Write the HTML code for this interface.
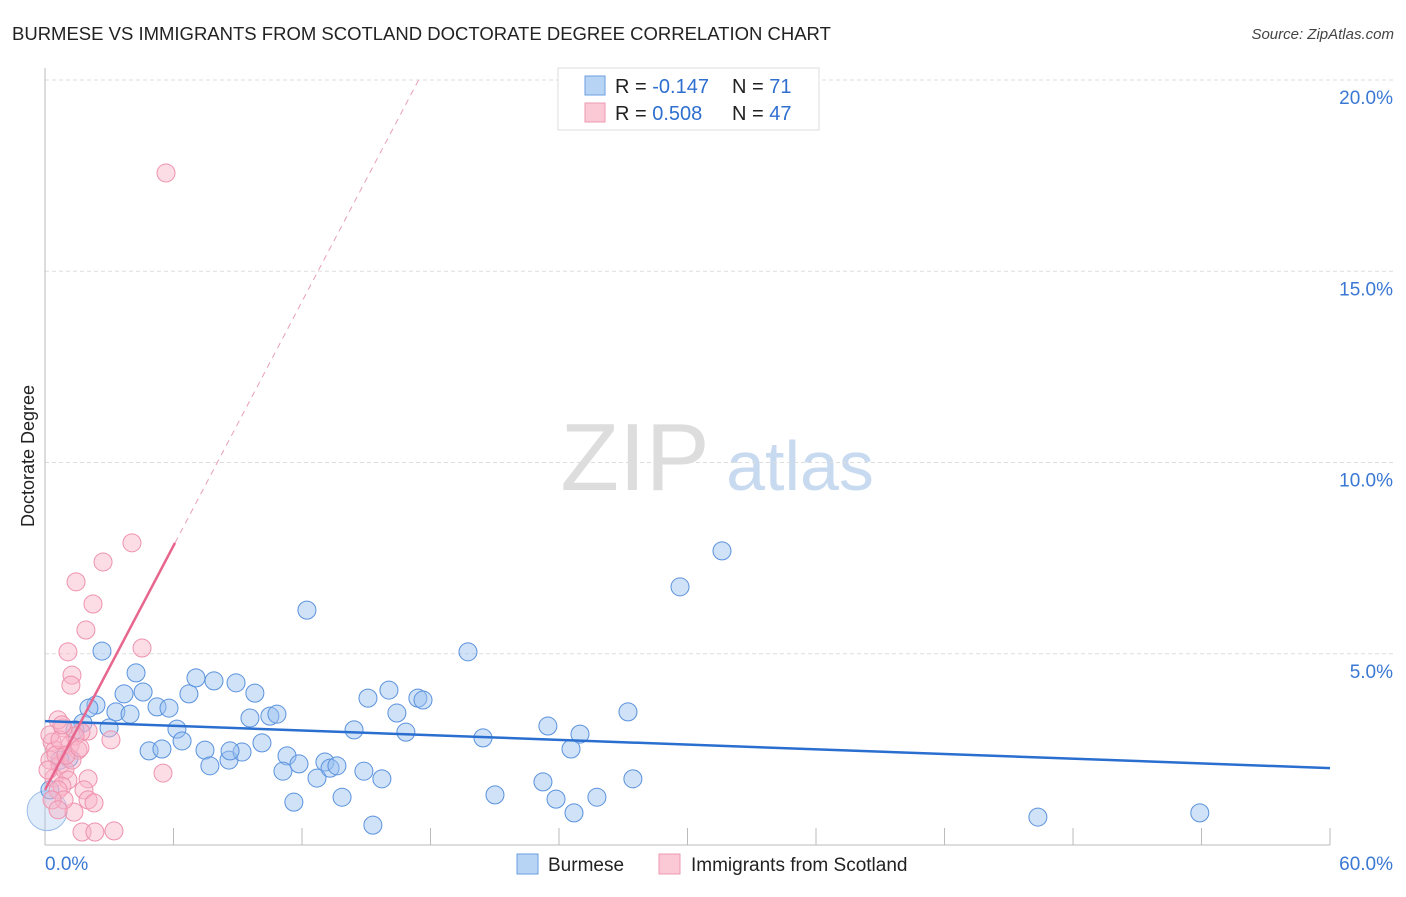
<!DOCTYPE html>
<html><head><meta charset="utf-8"><style>
body{margin:0;background:#fff;font-family:"Liberation Sans",sans-serif;}
svg text{font-family:"Liberation Sans",sans-serif;}
</style></head><body>
<svg id="chart" width="1406" height="892" xmlns="http://www.w3.org/2000/svg">
<text x="12" y="40" font-size="18.5" fill="#222">BURMESE VS IMMIGRANTS FROM SCOTLAND DOCTORATE DEGREE CORRELATION CHART</text>
<text x="1394" y="39" font-size="15" fill="#444" font-style="italic" text-anchor="end">Source: ZipAtlas.com</text>
<g>
<text x="635" y="490" font-size="96" fill="#ddd" font-family="Liberation Serif" text-anchor="middle">ZIP</text>
<text x="800" y="490" font-size="70" fill="#c8daf0" text-anchor="middle">atlas</text>
</g>
<g id="grid"></g>
<g id="axes"></g>
<g id="marks"></g>
<text transform="translate(34,456) rotate(-90)" font-size="18" fill="#222" text-anchor="middle">Doctorate Degree</text>
<g>
<rect x="558" y="68" width="261" height="62" fill="#fff" stroke="#ddd"/>
<rect x="585" y="76" width="20" height="19" fill="#b8d4f5" stroke="#6a9ee0"/>
<rect x="585" y="103" width="20" height="19" fill="#fbc8d6" stroke="#ee9ab2"/>
<text x="615" y="93" font-size="20" fill="#222">R = <tspan fill="#2f6fd0">-0.147</tspan></text>
<text x="732" y="93" font-size="20" fill="#222">N = <tspan fill="#2f6fd0">71</tspan></text>
<text x="615" y="120" font-size="20" fill="#222">R = <tspan fill="#2f6fd0"> 0.508</tspan></text>
<text x="732" y="120" font-size="20" fill="#222">N = <tspan fill="#2f6fd0">47</tspan></text>
</g>
<g>
<rect x="517" y="854" width="21" height="20" fill="#b8d4f5" stroke="#6a9ee0"/>
<text x="548" y="871" font-size="19" fill="#222">Burmese</text>
<rect x="659" y="854" width="21" height="20" fill="#fbc8d6" stroke="#ee9ab2"/>
<text x="691" y="871" font-size="19" fill="#222">Immigrants from Scotland</text>
</g>
</svg>
<script>
const yTicks=[5,10,15,20];
const yTickLabels=["5.0%","10.0%","15.0%","20.0%"];
const xTicks=[0,6,12,18,24,30,36,42,48,54,60];
const blueX=[2.66,4.25,2.38,2.05,3.69,4.58,3.31,3.97,2.99,1.77,1.12,5.23,5.79,6.72,7.05,7.89,8.92,9.80,9.57,10.50,10.83,6.16,6.40,4.86,5.46,7.47,7.70,8.59,9.20,10.13,8.64,11.30,11.11,11.86,11.62,12.70,13.07,13.31,13.63,13.87,14.89,15.31,15.73,12.23,15.08,16.06,16.43,16.85,14.43,17.41,17.65,19.75,20.45,21.01,23.25,23.48,23.86,24.56,24.70,24.98,25.77,27.22,27.45,29.65,31.61,46.36,53.92,0.1,0.70,0.23,1.40];
const blueY=[5.07,4.50,3.66,3.58,3.95,4.00,3.48,3.42,3.06,3.19,2.27,3.61,3.58,3.95,4.37,4.29,4.24,3.97,3.32,3.37,3.42,3.03,2.72,2.46,2.51,2.48,2.07,2.22,2.43,2.67,2.46,2.33,1.93,2.12,1.12,1.75,2.17,2.01,2.07,1.25,1.93,0.52,1.73,6.14,3.84,4.05,3.45,2.95,3.01,3.84,3.79,5.05,2.80,1.31,1.65,3.11,1.20,2.51,0.84,2.90,1.25,3.48,1.73,6.75,7.69,0.73,0.84,0.9,2.22,1.44,3.01];
const pinkX=[5.65,4.06,2.71,1.45,2.24,1.91,4.53,1.07,1.26,1.21,5.51,3.08,2.01,1.68,1.40,0.84,0.61,0.33,0.47,0.23,0.70,0.93,0.42,1.07,0.79,0.61,2.01,1.82,2.01,2.29,1.35,1.73,2.33,3.22,0.89,0.51,1.17,1.54,0.23,0.14,0.70,1.26,0.98,1.63,0.33,0.61,0.79];
const pinkY=[17.57,7.90,7.40,6.88,6.30,5.62,5.15,5.05,4.44,4.18,1.88,2.75,2.98,2.95,2.85,3.06,3.27,2.69,2.48,2.22,2.09,1.96,1.75,1.70,1.54,1.44,1.73,1.44,1.18,1.10,0.86,0.34,0.34,0.37,1.18,2.35,2.61,2.48,2.88,1.96,2.75,2.22,2.35,2.54,1.18,0.92,3.14];
const blueTrend=[3.24,2.01];
const pinkTrend=[1.44,1.064];
const X=v=>45+v*21.417, Y=v=>845-v*38.25;
const NS="http://www.w3.org/2000/svg";
function mk(tag,attrs,parent){const e=document.createElementNS(NS,tag);for(const k in attrs)e.setAttribute(k,attrs[k]);parent.appendChild(e);return e;}
const grid=document.getElementById('grid'),axes=document.getElementById('axes'),marks=document.getElementById('marks');
yTicks.forEach((t,i)=>{
 const l=mk('line',{x1:45,x2:1395,y1:Y(t),y2:Y(t),stroke:'#ddd','stroke-dasharray':'4,3'},grid);
 
 
 const tx=mk('text',{x:1393,y:Y(t)+24,'font-size':19,fill:'#3a78d4','text-anchor':'end'},grid);
 tx.textContent=yTickLabels[i];
 
 
});
const ax=mk('line',{x1:45,x2:45,y1:68,y2:845,stroke:'#bbb'},axes);


const bx=mk('line',{x1:45,x2:1330,y1:845,y2:845,stroke:'#bbb'},axes);


xTicks.forEach(t=>{const l=mk('line',{x1:X(t),x2:X(t),y1:828,y2:845,stroke:'#bbb'},axes);
 
 });
const x0=mk('text',{x:45,y:870,'font-size':19,fill:'#3a78d4'},axes);x0.textContent='0.0%';


const x1=mk('text',{x:1393,y:870,'font-size':19,fill:'#3a78d4','text-anchor':'end'},axes);x1.textContent='60.0%';


blueX.forEach((v,i)=>{const big=(v<0.5&&blueY[i]<1);const c=mk('circle',{cx:X(v),cy:Y(blueY[i]),r:big?20:9,fill:big?'rgba(170,200,240,0.35)':'rgba(150,190,240,0.45)',stroke:big?'#9cbde8':'#5a92dd','stroke-width':1},marks);
 
 });
pinkX.forEach((v,i)=>{const c=mk('circle',{cx:X(v),cy:Y(pinkY[i]),r:9,fill:'rgba(248,180,200,0.45)',stroke:'#ee92ae','stroke-width':1},marks);
 
 });
const bl=mk('line',{x1:X(0),y1:Y(blueTrend[0]),x2:X(60),y2:Y(blueTrend[1]),stroke:'#2a6fd0','stroke-width':2.5},marks);


const pEnd=6.07, pTop=(20-pinkTrend[0])/pinkTrend[1];
const ps=mk('line',{x1:X(0),y1:Y(pinkTrend[0]),x2:X(pEnd),y2:Y(pinkTrend[0]+pinkTrend[1]*pEnd),stroke:'#e8668e','stroke-width':2.5},marks);


const pd=mk('line',{x1:X(pEnd),y1:Y(pinkTrend[0]+pinkTrend[1]*pEnd),x2:X(pTop),y2:Y(20),stroke:'#e8a0b6','stroke-width':1,'stroke-dasharray':'6,5'},marks);


</script>
</body></html>
